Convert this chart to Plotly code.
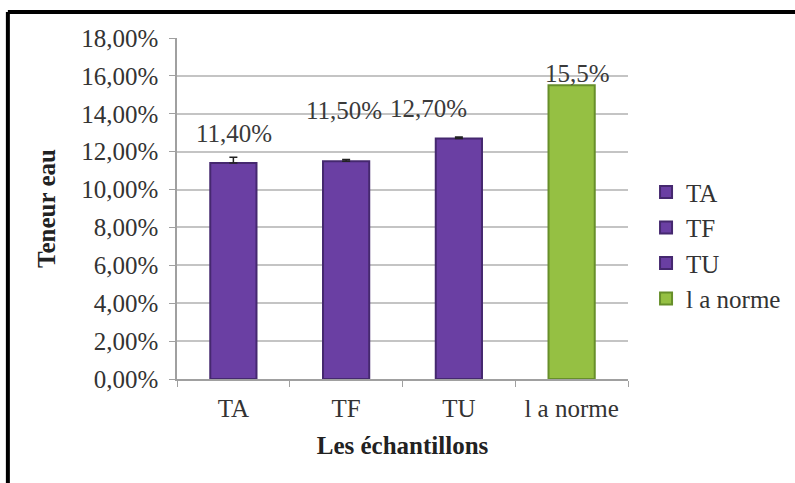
import plotly.graph_objects as go

categories = ["TA", "TF", "TU", "l a norme"]
values = [0.114, 0.115, 0.127, 0.155]
errors_up = [0.003, 0.0008, 0.0008, 0.0]
labels = ["11,40%", "11,50%", "12,70%", "15,5%"]
colors = ["#6A3FA3", "#6A3FA3", "#6A3FA3", "#95C043"]
edge_colors = ["#45286F", "#45286F", "#45286F", "#678F2A"]
label_xshift = [1, -2, -30, 6]
label_yshift = [30, 51, 30, 12]

font_family = "Times New Roman"
fs = 25

fig = go.Figure()
for i, cat in enumerate(categories):
    fig.add_trace(go.Bar(
        x=[cat], y=[values[i]], name=cat,
        marker=dict(color=colors[i], line=dict(color=edge_colors[i], width=2)),
        width=0.41,
        error_y=dict(type="data", symmetric=False, array=[errors_up[i]], arrayminus=[0],
                     visible=errors_up[i] > 0,
                     color="#222222", thickness=1.5, width=4),
    ))

for i, cat in enumerate(categories):
    fig.add_annotation(x=cat, y=values[i], text=labels[i], showarrow=False,
                       xshift=label_xshift[i], yshift=label_yshift[i], yanchor="middle",
                       font=dict(family=font_family, size=fs, color="#3a3a3a"))

# outer frame (top and left edges of original border)
fig.add_shape(type="line", xref="paper", yref="paper", x0=-0.375, x1=1.5, y0=1.076, y1=1.076,
              line=dict(color="black", width=4))
fig.add_shape(type="line", xref="paper", yref="paper", x0=-0.375, x1=-0.375, y0=1.076, y1=-0.4,
              line=dict(color="black", width=4))

fig.update_layout(
    width=795, height=483,
    margin=dict(l=177, r=167, t=38, b=104, autoexpand=False),
    paper_bgcolor="white", plot_bgcolor="white",
    barmode="overlay",
    separators=", ",
    font=dict(family=font_family, size=fs, color="#333333"),
    showlegend=True,
    legend=dict(x=1.04, y=0.615, xanchor="left", yanchor="top",
                font=dict(family=font_family, size=fs, color="#333333"),
                itemwidth=30, bgcolor="rgba(0,0,0,0)"),
    xaxis=dict(
        type="category", showgrid=False,
        showline=True, linecolor="#a0a0a0", linewidth=1.5,
        ticks="outside", tickson="boundaries", ticklen=6, tickcolor="#a0a0a0",
        ticklabelstandoff=6,
        tickfont=dict(family=font_family, size=fs, color="#333333"),
        title=dict(text="<b>Les échantillons</b>", standoff=16,
                   font=dict(family=font_family, size=fs, color="#222222")),
    ),
    yaxis=dict(
        range=[0, 0.18], dtick=0.02, tickformat=".2%",
        showgrid=True, gridcolor="#c4c4c4", gridwidth=1.5,
        showline=True, linecolor="#a0a0a0", linewidth=1.5,
        ticks="outside", ticklen=6, tickcolor="#a0a0a0",
        ticklabelstandoff=6,
        tickfont=dict(family=font_family, size=fs, color="#333333"),
        zeroline=False,
        title=dict(text="<b>Teneur eau</b>", standoff=18,
                   font=dict(family=font_family, size=fs, color="#222222")),
    ),
)

fig.write_html("out.html")
